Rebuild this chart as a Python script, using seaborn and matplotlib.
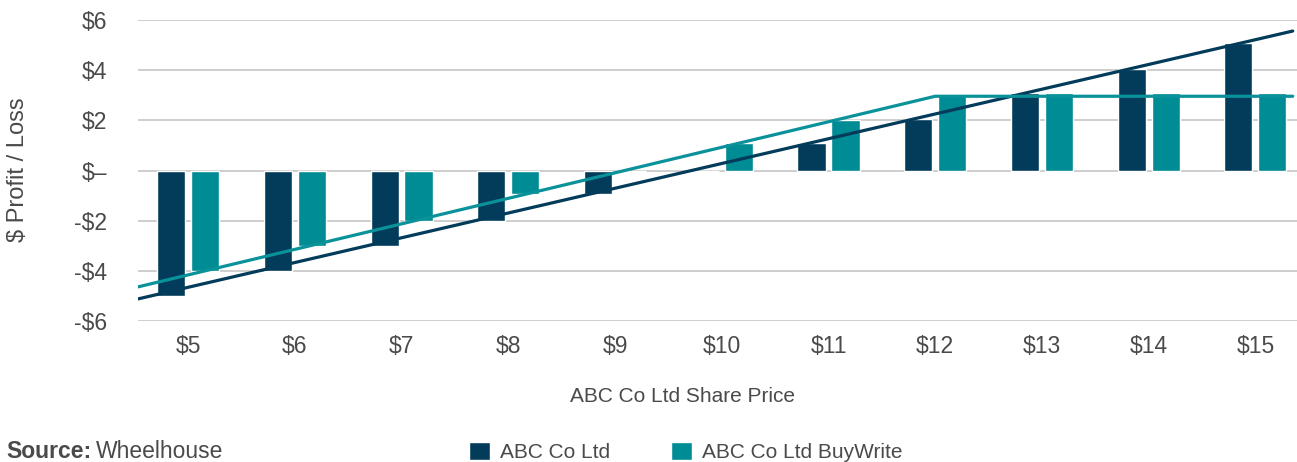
import pandas as pd
import seaborn as sns
from matplotlib import pyplot as plt

# share prices and profit / loss
prices = ["$5", "$6", "$7", "$8", "$9", "$10", "$11", "$12", "$13", "$14", "$15"]
abc_values = [-5, -4, -3, -2, -0.95, 0, 1.1, 2.05, 3.1, 4.05, 5.1]
buywrite_values = [-4, -3, -2, -0.95, 0, 1.1, 2.0, 3.05, 3.1, 3.1, 3.1]

# payoff lines (share price in $, profit / loss in $)
abc_line_price = [4.53, 15.35]
abc_line_pl = [-5.12, 5.56]
bw_line_price = [4.53, 12.0, 15.35]
bw_line_pl = [-4.64, 2.96, 2.96]

y_ticks = [-6, -4, -2, 0, 2, 4, 6]
y_tick_labels = ["-$6", "-$4", "-$2", "$\u2013", "$2", "$4", "$6"]

series_names = ["ABC Co Ltd", "ABC Co Ltd BuyWrite"]
navy = "#033c5a"
teal = "#008c95"
text_color = "#4a4a4a"

df = pd.DataFrame({
    "price": prices * 2,
    "value": abc_values + buywrite_values,
    "series": [series_names[0]] * len(prices) + [series_names[1]] * len(prices),
})

sns.set_style("white")
plt.rcParams["font.family"] = ["Liberation Sans", "DejaVu Sans"]

fig = plt.figure(figsize=(12.97, 4.62), dpi=100)
ax = fig.add_axes([138 / 1297, 1 - 321 / 462, 1 - 138 / 1297, (321 - 20) / 462])

sns.barplot(data=df, x="price", y="value", hue="series", order=prices,
            hue_order=series_names, palette=[navy, teal], saturation=1,
            width=0.637, gap=0.17, ax=ax, zorder=2)

# lines on the category axis: position = price - first price
first_price = 5
sns.lineplot(x=[p - first_price for p in abc_line_price], y=abc_line_pl,
             color=navy, lw=2.3, ax=ax, zorder=3, sort=False, estimator=None)
sns.lineplot(x=[p - first_price for p in bw_line_price], y=bw_line_pl,
             color="#0a929a", lw=2.3, ax=ax, zorder=3, sort=False, estimator=None)

handles, labels = ax.get_legend_handles_labels()
ax.get_legend().remove()

ax.set_xlim(-0.47, 10.39)
ax.set_ylim(-6, 6)
ax.set_yticks(y_ticks)
ax.set_yticklabels(y_tick_labels)
ax.yaxis.grid(True, color="#c6c6c6", lw=1.2)
ax.set_axisbelow(True)
for s in ax.spines.values():
    s.set_visible(False)
ax.tick_params(axis="both", length=0, labelsize=16.5, colors=text_color)
ax.tick_params(axis="y", pad=22)
ax.tick_params(axis="x", pad=10)
ax.set_xlabel("")
ax.set_ylabel("")

fig.text(682 / 1297, 1 - 397 / 462, "ABC Co Ltd Share Price", ha="center", va="center",
         fontsize=15, color=text_color)
fig.text(18 / 1297, 1 - 170 / 462, "$ Profit / Loss", ha="center", va="center",
         rotation=90, fontsize=17, color=text_color)

fig.legend(handles[:2], labels[:2], ncol=2, loc="center left",
           bbox_to_anchor=(469 / 1297, 1 - 452 / 462), frameon=False,
           fontsize=15, labelcolor=text_color, handlelength=1.0, handleheight=1.0,
           handletextpad=0.5, columnspacing=2.9, borderpad=0, borderaxespad=0)

src = fig.text(6 / 1297, 1 - 451 / 462, "Source:", fontweight="bold", fontsize=16.5,
               color=text_color, va="center", ha="left")
renderer = fig.canvas.get_renderer()
bb = src.get_window_extent(renderer)
fig.text((bb.x1 + 5) / 1297, 1 - 451 / 462, "Wheelhouse", fontsize=16.5,
         color=text_color, va="center", ha="left")

fig.savefig("out.png", dpi=100)
